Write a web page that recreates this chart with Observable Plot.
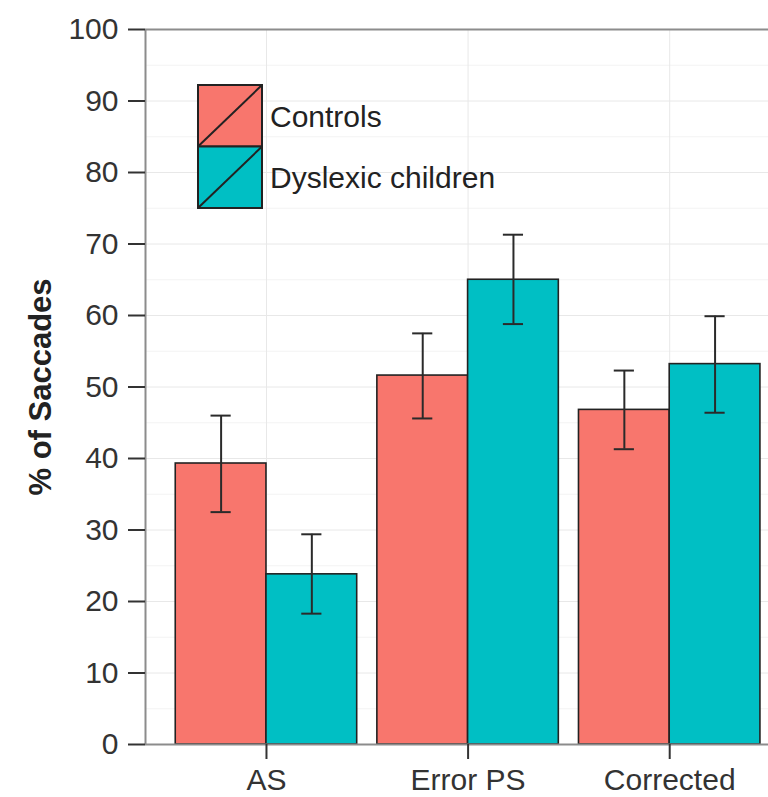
<!DOCTYPE html>
<html><head><meta charset="utf-8">
<script src="https://cdn.jsdelivr.net/npm/d3@7"></script>
<script src="https://cdn.jsdelivr.net/npm/@observablehq/plot@0.6"></script>
<style>
html,body{margin:0;padding:0;background:#fff;overflow:hidden}
#wrap{position:relative;width:768px;height:797px;font-family:"Liberation Sans",Arial,Helvetica,sans-serif}
#legend{position:absolute;left:0;top:0;pointer-events:none}
</style></head><body><div id="wrap"></div>
<script>
const categories = ["AS", "Error PS", "Corrected"];
const groups = ["Controls", "Dyslexic children"];
const controlsMean = [39.3, 51.6, 46.8];
const controlsLow  = [32.5, 45.6, 41.3];
const controlsHigh = [46.0, 57.5, 52.3];
const dyslexicMean = [23.8, 65.0, 53.2];
const dyslexicLow  = [18.3, 58.8, 46.4];
const dyslexicHigh = [29.4, 71.3, 59.9];
const yTicks = [0, 10, 20, 30, 40, 50, 60, 70, 80, 90, 100];
const yMinor = [5, 15, 25, 35, 45, 55, 65, 75, 85, 95];
const colors = ["#F8766D", "#00BFC4"];

const BW = 0.45; // dodged bar width (data units)
const rows = [];
categories.forEach((c, i) => {
  rows.push({cat: c, group: groups[0], g: 0, pos: i + 1, mean: controlsMean[i], lo: controlsLow[i], hi: controlsHigh[i]});
  rows.push({cat: c, group: groups[1], g: 1, pos: i + 1, mean: dyslexicMean[i], lo: dyslexicLow[i], hi: dyslexicHigh[i]});
});
const left = d => d.pos + (d.g === 0 ? -BW : 0);
const center = d => left(d) + BW / 2;

const font = '"Liberation Sans", Arial, Helvetica, sans-serif';
const chart = Plot.plot({
  width: 768, height: 797,
  marginTop: 29, marginBottom: 53, marginLeft: 145, marginRight: 0,
  style: {fontFamily: font, color: "#333", background: "#fff", overflow: "visible"},
  x: {type: "linear", domain: [0.4, 3.49]},
  y: {domain: [0, 100]},
  color: {domain: groups, range: colors},
  marks: [
    Plot.gridY(yMinor, {stroke: "#f3f3f3", strokeOpacity: 1}),
    Plot.gridY(yTicks, {stroke: "#e8e8e8", strokeOpacity: 1}),
    Plot.gridX([1, 2, 3], {stroke: "#e8e8e8", strokeOpacity: 1}),
    Plot.rectY(rows, {x1: left, x2: d => left(d) + BW, y1: 0, y2: "mean", fill: "group", stroke: "#222", strokeWidth: 1.6}),
    Plot.ruleX(rows, {x: center, y1: "lo", y2: "hi", stroke: "#2a2a2a", strokeWidth: 2}),
    Plot.ruleY(rows, {y: "lo", x1: d => center(d) - 0.05, x2: d => center(d) + 0.05, stroke: "#2a2a2a", strokeWidth: 2}),
    Plot.ruleY(rows, {y: "hi", x1: d => center(d) - 0.05, x2: d => center(d) + 0.05, stroke: "#2a2a2a", strokeWidth: 2}),
    Plot.ruleY([0, 100], {stroke: "#8c8c8c", strokeWidth: 2}),
    Plot.ruleX([0.4], {stroke: "#8c8c8c", strokeWidth: 2}),
    Plot.axisY({ticks: yTicks, tickSize: 17, tickPadding: 10, fontSize: 30, stroke: "#333", strokeWidth: 2, label: null}),
    Plot.axisX({ticks: [1, 2, 3], tickFormat: d => categories[d - 1], tickSize: 15, tickPadding: 9, fontSize: 30, stroke: "#333", strokeWidth: 2, label: null}),
    Plot.text(["% of Saccades"], {frameAnchor: "left", textAnchor: "middle", dx: -104, rotate: -90, fontWeight: "bold", fontSize: 31, fill: "#222"})
  ]
});
document.getElementById("wrap").appendChild(chart);

// legend overlay
const lg = d3.select("#wrap").append("svg").attr("id", "legend").attr("width", 768).attr("height", 797);
const keyX = 198, keyY = 85, keyW = 64, keyH = 61.5;
groups.forEach((g, i) => {
  const y0 = keyY + i * keyH;
  lg.append("rect").attr("x", keyX).attr("y", y0).attr("width", keyW).attr("height", keyH)
    .attr("fill", colors[i]).attr("stroke", "#222").attr("stroke-width", 2);
  lg.append("line").attr("x1", keyX).attr("y1", y0 + keyH).attr("x2", keyX + keyW).attr("y2", y0)
    .attr("stroke", "#222").attr("stroke-width", 2);
  lg.append("text").attr("x", keyX + keyW + 8).attr("y", y0 + keyH / 2).attr("dy", "0.36em")
    .attr("font-family", font).attr("font-size", 30).attr("fill", "#222").text(g);
});
</script></body></html>
